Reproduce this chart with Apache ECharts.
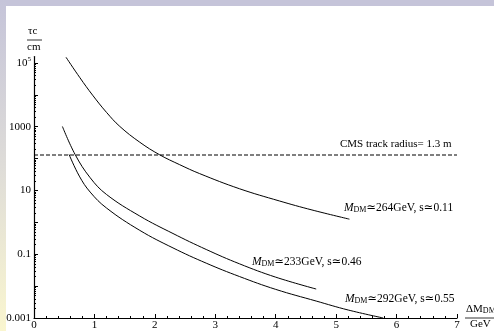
<!DOCTYPE html>
<html>
<head>
<meta charset="utf-8">
<script src="https://cdn.jsdelivr.net/npm/echarts@6/dist/echarts.min.js"></script>
<style>html,body{margin:0;padding:0;background:#fff;}#c{width:494px;height:331px;}</style>
</head>
<body>
<div id="c"></div>
<script>
// ---- data ----
var xA = [0.53, 0.76, 0.97, 1.2, 1.42, 1.75, 2.08, 2.41, 2.74, 3.4, 4.06, 4.6, 5.22];
var yA = [151000, 34400, 9770, 2820, 1023, 327, 131.5, 64.6, 33.9, 11.35, 4.7, 2.45, 1.26];
var xB = [0.47, 0.68, 0.93, 1.2, 1.75, 2.3, 2.85, 3.4, 4.0, 4.67];
var yB = [1020, 135, 25.1, 7.5, 1.58, 0.447, 0.141, 0.0501, 0.0191, 0.0081];
var xC = [0.58, 0.75, 0.93, 1.2, 1.75, 2.3, 2.85, 3.4, 4.0, 4.67, 5.2, 5.78];
var yC = [135, 28.2, 8.9, 2.82, 0.562, 0.158, 0.0525, 0.02, 0.0079, 0.0034, 0.00178, 0.001];
var cmsX = [0, 7];
var cmsY = 130;
var xTicks = [0, 1, 2, 3, 4, 5, 6, 7];
var yLabelValues = [0.001, 0.1, 10, 1000, 100000];
var yMajorTicks = [0.001, 0.01, 0.1, 1, 10, 100, 1000, 10000, 100000];
var yMinorTicks = [];
(function(){
  var mult = [2,3,4,5,6,7,8,9];
  yMajorTicks.forEach(function(d){ mult.forEach(function(m){ var v = +(d*m).toPrecision(6); if (v < 158000) yMinorTicks.push(v); }); });
})();
var labelA = 'M_DM≃264GeV, s≃0.11';
var labelB = 'M_DM≃233GeV, s≃0.46';
var labelC = 'M_DM≃292GeV, s≃0.55';
var cmsLabel = 'CMS track radius= 1.3 m';

function pairs(xs, ys) { return xs.map(function(x, i){ return [x, ys[i]]; }); }

var FONT = '"Liberation Serif", "DejaVu Serif", serif';
var chart = echarts.init(document.getElementById('c'), null, {renderer: 'canvas'});

function mLabel(s) {
  var rest = s.replace('M_DM', '');
  return '{i|M}{s|DM}{n|' + rest + '}';
}
var richM = {
  i: {fontFamily: FONT, fontSize: 11.5, fontStyle: 'italic', color: '#000', verticalAlign: 'bottom', lineHeight: 14},
  s: {fontFamily: FONT, fontSize: 8, color: '#000', verticalAlign: 'bottom', lineHeight: 11},
  n: {fontFamily: FONT, fontSize: 11.5, color: '#000', verticalAlign: 'bottom', lineHeight: 14}
};

var lineStyle = {color: '#000', width: 1};

chart.setOption({
  animation: false,
  backgroundColor: '#ffffff',
  grid: {left: 34, right: 37, top: 56.6, bottom: 12, containLabel: false},
  xAxis: {
    type: 'value', min: 0, max: 7, interval: 1,
    axisLine: {show: true, lineStyle: {color: '#000', width: 1.2}},
    axisTick: {show: true, inside: true, length: 4, lineStyle: {color: '#000'}},
    minorTick: {show: true, splitNumber: 5, length: 2, lineStyle: {color: '#000'}},
    splitLine: {show: false},
    axisLabel: {fontFamily: FONT, fontSize: 11, color: '#000', margin: 2,
      formatter: function(v){ return xTicks.indexOf(v) >= 0 ? String(v) : ''; }}
  },
  yAxis: [{
    type: 'log', logBase: 10, min: 0.001, max: 158489,
    axisLine: {show: true, onZero: false, lineStyle: {color: '#000', width: 1.2}},
    axisTick: {show: true, inside: true, length: 4, lineStyle: {color: '#000'}, customValues: yMajorTicks},
    splitLine: {show: false},
    axisLabel: {
      fontFamily: FONT, fontSize: 11, color: '#000', margin: 3,
      customValues: yLabelValues,
      formatter: function(v){
        if (Math.abs(v - 100000) < 1) return '10{sup|5}';
        if (Math.abs(v - 1000) < 0.01) return '1000';
        if (Math.abs(v - 10) < 0.001) return '10';
        if (Math.abs(v - 0.1) < 0.00001) return '0.1';
        if (Math.abs(v - 0.001) < 0.0000001) return '0.001';
        return '';
      },
      rich: {sup: {fontFamily: FONT, fontSize: 7, color: '#000', verticalAlign: 'top', lineHeight: 14, padding: [0,0,6,0]}}
    }
  }, {
    type: 'log', logBase: 10, min: 0.001, max: 158489, position: 'left', offset: 0,
    axisLine: {show: false},
    axisTick: {show: true, inside: true, length: 2, lineStyle: {color: '#000'}, customValues: yMinorTicks},
    axisLabel: {show: false},
    splitLine: {show: false}
  }],
  series: [
    {type: 'line', name: 'A', data: pairs(xA, yA), smooth: 0.4, showSymbol: false, symbol: 'none', lineStyle: lineStyle, itemStyle: {color: '#000'}},
    {type: 'line', name: 'B', data: pairs(xB, yB), smooth: 0.4, showSymbol: false, symbol: 'none', lineStyle: lineStyle, itemStyle: {color: '#000'}},
    {type: 'line', name: 'C', data: pairs(xC, yC), smooth: 0.4, showSymbol: false, symbol: 'none', lineStyle: lineStyle, itemStyle: {color: '#000'}},
    {type: 'line', name: 'CMS', data: cmsX.map(function(x){ return [x, cmsY]; }), showSymbol: false, symbol: 'none',
      lineStyle: {color: '#000', width: 1.2, type: [4, 2]}, itemStyle: {color: '#000'}}
  ],
  graphic: [
    {type: 'rect', z: -10, silent: true, shape: {x: 0, y: 0, width: 494, height: 6}, style: {fill: '#c5c4d9'}},
    {type: 'rect', z: -10, silent: true, shape: {x: 0, y: 0, width: 6, height: 331},
      style: {fill: new echarts.graphic.LinearGradient(0, 0, 0, 1, [
        {offset: 0, color: '#c5c4d9'}, {offset: 0.5, color: '#dedcd8'}, {offset: 1, color: '#faf6cf'}])}},
    // y-axis name as fraction
    {type: 'text', left: 28, top: 26, style: {text: 'τc', font: '11px ' + FONT, fill: '#000'}},
    {type: 'line', shape: {x1: 27, y1: 40, x2: 42, y2: 40}, style: {stroke: '#000', lineWidth: 0.8}},
    {type: 'text', left: 27, top: 42, style: {text: 'cm', font: '11px ' + FONT, fill: '#000'}},
    // x-axis name as fraction
    {type: 'text', left: 466, top: 304, style: {rich: {a: {fontFamily: FONT, fontSize: 11, color: '#000', verticalAlign: 'bottom', lineHeight: 12}, b: {fontFamily: FONT, fontSize: 8, color: '#000', verticalAlign: 'bottom', lineHeight: 10}}, text: '{a|ΔM}{b|DM}'}},
    {type: 'line', shape: {x1: 465, y1: 318, x2: 494, y2: 318}, style: {stroke: '#000', lineWidth: 0.8}},
    {type: 'text', left: 470, top: 319, style: {text: 'GeV', font: '11px ' + FONT, fill: '#000'}},
    // annotations
    {type: 'text', left: 340, top: 139, style: {text: cmsLabel, font: '11px ' + FONT, fill: '#000'}},
    {type: 'text', left: 344, top: 202, style: {text: mLabel(labelA), rich: richM}},
    {type: 'text', left: 252, top: 256, style: {text: mLabel(labelB), rich: richM}},
    {type: 'text', left: 345, top: 293, style: {text: mLabel(labelC), rich: richM}}
  ]
});
</script>
</body>
</html>
